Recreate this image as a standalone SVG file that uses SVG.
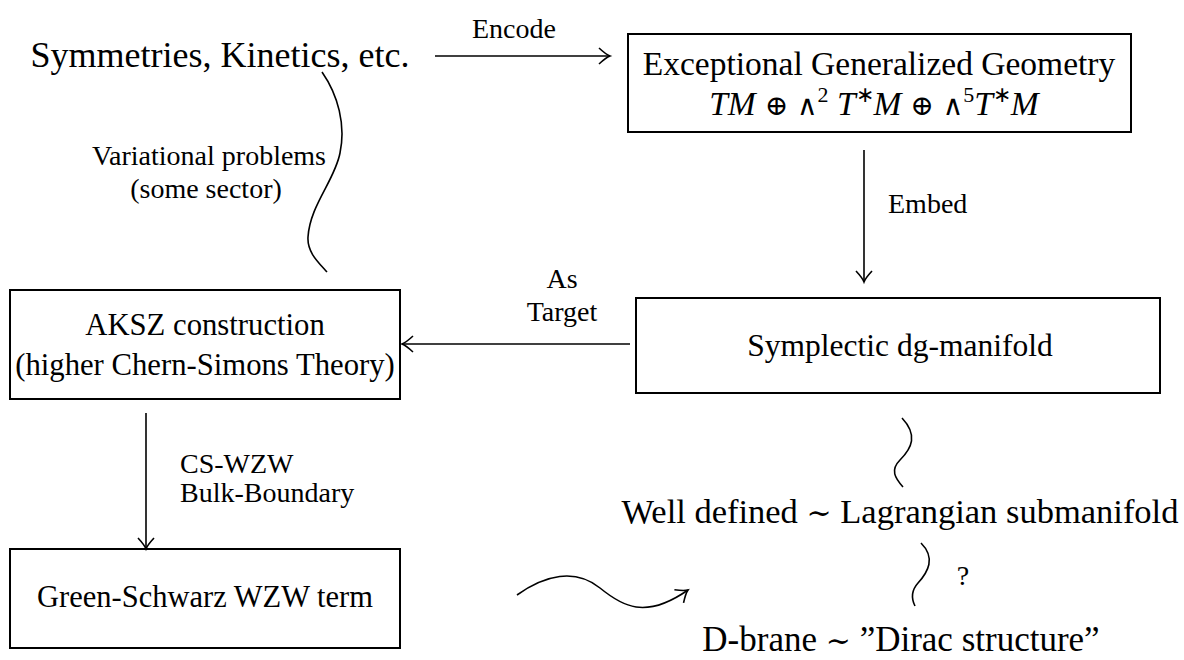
<svg xmlns="http://www.w3.org/2000/svg" width="1184" height="660" viewBox="0 0 1184 660">
<style>
.box{fill:none;stroke:#000;stroke-width:2}
.ln{fill:none;stroke:#000;stroke-width:1.6}
.t{font-family:"Liberation Serif","Times New Roman",serif;fill:#000;text-anchor:middle}
.s{font-family:"Liberation Serif","Times New Roman",serif;font-size:28px;fill:#000}
.m{font-style:italic}
.op{font-family:"DejaVu Serif",serif}
</style>
<defs>
<marker id="ah" markerWidth="20" markerHeight="20" refX="0" refY="0" viewBox="-12 -10 14 20" orient="auto" markerUnits="userSpaceOnUse">
<path d="M-11,-8 Q-4,-1.5 0,0 Q-4,1.5 -11,8" fill="none" stroke="#000" stroke-width="1.6"/>
</marker>
</defs>
<rect width="1184" height="660" fill="#fff"/>
<g id="symmetries"><text class="t" x="220" y="67" font-size="36">Symmetries, Kinetics, etc.</text></g>
<g id="egg">
<rect class="box" x="628" y="34" width="503" height="98"/>
<text class="t" x="879" y="75" font-size="33.5">Exceptional Generalized Geometry</text>
<text class="t" x="874" y="115" font-size="33.5"><tspan class="m">TM</tspan><tspan class="op" font-size="28"> ⊕ ∧</tspan><tspan font-size="22" dy="-13">2</tspan><tspan dy="13"> </tspan><tspan class="m">T</tspan><tspan font-size="22" dy="-13">∗</tspan><tspan class="m" dy="13">M</tspan><tspan class="op" font-size="28"> ⊕ ∧</tspan><tspan font-size="22" dy="-13">5</tspan><tspan class="m" dy="13">T</tspan><tspan font-size="22" dy="-13">∗</tspan><tspan class="m" dy="13">M</tspan></text>
</g>
<g id="symplectic">
<rect class="box" x="636" y="298" width="524" height="95"/>
<text class="t" x="900" y="356" font-size="31.5">Symplectic dg-manifold</text>
</g>
<g id="aksz">
<rect class="box" x="10" y="290" width="390" height="109"/>
<text class="t" x="205" y="335" font-size="30.7">AKSZ construction</text>
<text class="t" x="205" y="375" font-size="30.7">(higher Chern-Simons Theory)</text>
</g>
<g id="greenschwarz">
<rect class="box" x="10" y="549" width="390" height="99"/>
<text class="t" x="205" y="607" font-size="30.5">Green-Schwarz WZW term</text>
</g>
<g id="welldefined"><text class="t" x="900" y="523" font-size="34.5">Well defined <tspan class="op" font-size="30">∼</tspan> Lagrangian submanifold</text></g>
<g id="dbrane"><text class="t" x="901" y="651" font-size="35">D-brane <tspan class="op" font-size="30">∼</tspan> ”Dirac structure”</text></g>
<g id="connectors">
<path class="ln" d="M435,56 H610" marker-end="url(#ah)"/>
<text class="s" x="514" y="38" text-anchor="middle">Encode</text>
<path class="ln" d="M864,150 V282" marker-end="url(#ah)"/>
<text class="s" x="888" y="213">Embed</text>
<path class="ln" d="M630,344 H402" marker-end="url(#ah)"/>
<text class="s" x="562" y="288" text-anchor="middle">As</text>
<text class="s" x="562" y="321" text-anchor="middle">Target</text>
<path class="ln" d="M322,72 C338,95 346,125 340,153 C335,180 310,205 308,237 C307,252 318,262 327,272"/>
<text class="s" x="209" y="165" text-anchor="middle">Variational problems</text>
<text class="s" x="206" y="198" text-anchor="middle">(some sector)</text>
<path class="ln" d="M146,413 V549" marker-end="url(#ah)"/>
<text class="s" x="180" y="473">CS-WZW</text>
<text class="s" x="180" y="502">Bulk-Boundary</text>
<path class="ln" d="M517,595 C545,575 575,568 600,588 C622,606 645,620 688,590" marker-end="url(#ah)"/>
<path class="ln" d="M902,418 C918,435 912,448 900,460 C890,470 895,478 903,487"/>
<path class="ln" d="M921,543 C936,558 928,572 918,583 C910,592 912,600 915,606"/>
<text class="s" x="963" y="585" text-anchor="middle">?</text>
</g>
</svg>
